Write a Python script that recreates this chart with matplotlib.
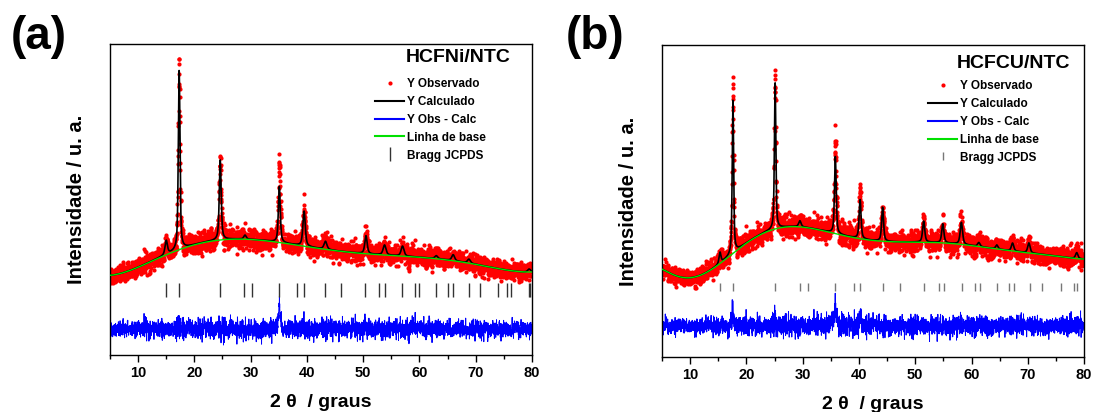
import numpy as np
import matplotlib.pyplot as plt
from matplotlib.ticker import MultipleLocator

plt.rcParams['font.family'] = ['Liberation Sans', 'DejaVu Sans']
plt.rcParams['font.weight'] = 'bold'

# 2-theta grid of the scan (0.02 deg step)
two_theta = np.arange(5.0, 80.0001, 0.02)

# HCFNi/NTC
bg_a_x = [5, 10, 15, 20, 25, 30, 40, 50, 60, 70, 80]
bg_a_y = [80, 87, 100, 112, 115, 114, 109, 102, 97, 91, 83]
peak_a_pos = [15.0, 17.3, 24.6, 29.0, 35.1, 39.5, 43.3, 50.5, 53.8, 57.0, 63.0, 66.0, 68.8, 79.5]
peak_a_calc = [14, 179, 80, 4, 56, 35, 8, 18, 10, 10, 3, 6, 4, 3]
peak_a_obs = [14, 181, 83, 4, 78, 36, 8, 18, 10, 10, 3, 6, 4, 3]
peak_a_fwhm = [0.5, 0.35, 0.4, 0.5, 0.4, 0.5, 0.6, 0.5, 0.6, 0.6, 0.6, 0.6, 0.6, 0.6]
bragg_a = [14.9, 17.2, 24.5, 28.8, 30.2, 35.0, 38.2, 39.4, 43.3, 46.1, 50.4, 52.9,
           53.8, 56.9, 59.3, 60.0, 63.0, 65.0, 65.9, 68.8, 70.8, 73.9, 75.6, 76.3,
           79.4, 79.6]

# HCFCU/NTC
bg_b_x = [5, 7, 9.2, 12, 15, 17.6, 20, 25, 28, 30, 35, 40, 45, 50, 55, 60, 65, 70, 75, 80]
bg_b_y = [88, 82, 79, 83, 92, 104, 113, 128, 131, 130, 124, 118, 116, 115, 114, 111, 108, 104, 101, 98]
peak_b_pos = [15.3, 17.6, 25.1, 29.5, 35.8, 40.2, 44.2, 51.5, 54.9, 58.2, 61.3, 64.5, 67.3, 70.2, 78.7]
peak_b_calc = [11, 153, 146, 6, 77, 39, 34, 21, 19, 22, 4, 4, 8, 10, 6]
peak_b_obs = [11, 172, 152, 6, 96, 44, 34, 21, 19, 22, 4, 4, 8, 10, 6]
peak_b_fwhm = [0.4, 0.3, 0.3, 0.5, 0.35, 0.4, 0.4, 0.45, 0.45, 0.5, 0.5, 0.5, 0.5, 0.5, 0.5]
bragg_b = [15.3, 17.7, 25.1, 29.5, 30.9, 35.8, 39.2, 40.2, 44.2, 47.3, 51.6, 54.3,
           55.1, 58.3, 60.7, 61.5, 64.6, 66.6, 67.5, 70.4, 72.5, 75.9, 78.2, 78.8]


def pseudo_voigt(x, pos, fwhm, eta=0.6):
    hw = fwhm / 2.0
    lor = 1.0 / (1.0 + ((x - pos) / hw) ** 2)
    gau = np.exp(-np.log(2) * ((x - pos) / hw) ** 2)
    return eta * lor + (1 - eta) * gau


def pattern(bg_x, bg_y, deg, pos, heights, fwhm):
    base = np.polynomial.Chebyshev.fit(bg_x, bg_y, deg)(two_theta)
    y = base.copy()
    for p, h, w in zip(pos, heights, fwhm):
        y += h * pseudo_voigt(two_theta, p, w)
    return base, y


rng = np.random.default_rng(11)


def draw_panel(ax, bg_x, bg_y, deg, pos, calc_h, obs_h, fwhm, bragg, ytop,
               diff_offset, bragg_y, bragg_ms, bragg_color, title, title_xy, leg_xy):
    base, calc = pattern(bg_x, bg_y, deg, pos, calc_h, fwhm)
    _, obs_clean = pattern(bg_x, bg_y, deg, pos, obs_h, fwhm)
    # counting noise on the measured pattern
    obs = obs_clean + rng.normal(0, 1, two_theta.size) * 0.45 * np.sqrt(obs_clean)
    diff = obs - calc + diff_offset

    ax.plot(two_theta, obs, ls='none', marker='o', ms=3.0, mec='none',
            color='#ff0000', label='Y Observado', zorder=2)
    ax.plot(two_theta, calc, color='black', lw=1.2, label='Y Calculado', zorder=3)
    ax.plot(two_theta, diff, color='#0000ff', lw=0.7, label='Y Obs - Calc', zorder=2)
    ax.plot(two_theta, base, color='#00e000', lw=1.0, label='Linha de base', zorder=4)
    ax.plot(bragg, [bragg_y] * len(bragg), ls='none', marker='|', ms=bragg_ms,
            mew=1.0, color=bragg_color, label='Bragg JCPDS', zorder=2)

    ax.set_xlim(5, 80)
    ax.set_ylim(0, ytop)
    ax.set_yticks([])
    ax.xaxis.set_major_locator(MultipleLocator(10))
    ax.xaxis.set_minor_locator(MultipleLocator(5))
    ax.tick_params(axis='x', which='major', direction='out', length=5, width=1,
                   labelsize=10.5, pad=3)
    ax.tick_params(axis='x', which='minor', direction='out', length=3, width=1)
    for lbl in ax.get_xticklabels():
        lbl.set_fontweight('bold')
    for sp in ax.spines.values():
        sp.set_linewidth(1.0)

    ax.set_xlabel('2 θ  / graus', fontsize=14, fontweight='bold', labelpad=10)
    ax.set_ylabel('Intensidade / u. a.', fontsize=14.5, fontweight='bold')
    ax.yaxis.set_label_coords(-0.056, 0.5)
    ax.text(title_xy[0], title_xy[1], title, transform=ax.transAxes, ha='center',
            va='center', fontsize=14, fontweight='bold')
    leg = ax.legend(loc='upper left', bbox_to_anchor=leg_xy, frameon=False,
                    handlelength=2.5, handletextpad=0.25, labelspacing=0.5,
                    borderpad=0, borderaxespad=0, numpoints=1,
                    prop={'weight': 'bold', 'size': 8.5})
    for h in leg.legend_handles[1:4]:
        h.set_linewidth(1.5)


fig = plt.figure(figsize=(10.93, 4.12), dpi=100)
ax_a = fig.add_axes([0.1006, 0.1383, 0.3861, 0.7549])
ax_b = fig.add_axes([0.6057, 0.1335, 0.3861, 0.7573])

draw_panel(ax_a, bg_a_x, bg_a_y, 6, peak_a_pos, peak_a_calc, peak_a_obs, peak_a_fwhm,
           bragg_a, 311, 26, 65.5, 9.4, '#333333', 'HCFNi/NTC',
           (0.826, 0.958), (0.628, 0.891))
draw_panel(ax_b, bg_b_x, bg_b_y, 9, peak_b_pos, peak_b_calc, peak_b_obs, peak_b_fwhm,
           bragg_b, 312, 31, 69.5, 5.2, '#777777', 'HCFCU/NTC',
           (0.833, 0.942), (0.630, 0.888))

fig.text(0.0357, 0.909, '(a)', fontsize=33, fontweight='bold', ha='center', va='center')
fig.text(0.5444, 0.909, '(b)', fontsize=33, fontweight='bold', ha='center', va='center')

fig.savefig('out.png', dpi=100)
